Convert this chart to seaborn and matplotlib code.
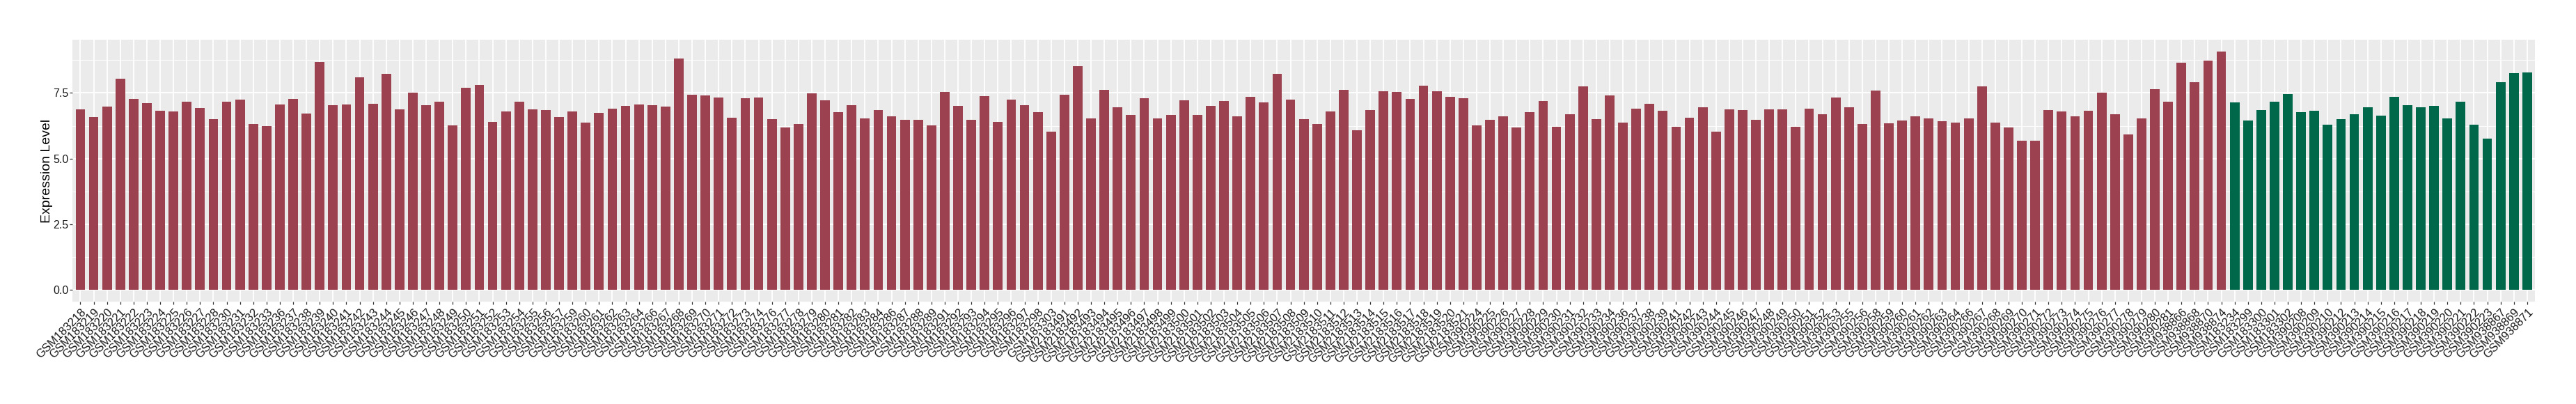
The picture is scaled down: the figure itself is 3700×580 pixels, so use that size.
import matplotlib
matplotlib.use("Agg")
import matplotlib.pyplot as plt
import matplotlib.transforms as mtransforms
from matplotlib.ticker import MultipleLocator, FormatStrFormatter
import numpy as np
import pandas as pd
import seaborn as sns

# ---------------- data ----------------
tumor_g1_ids = [183218, 183219, 183220, 183221, 183222, 183223, 183224, 183225, 183226, 183227,
                183228, 183230, 183231, 183232, 183233, 183236, 183237, 183238, 183239, 183240,
                183241, 183242, 183243, 183244, 183245, 183246, 183247, 183248, 183249, 183250,
                183251, 183252, 183253, 183254, 183255, 183256, 183257, 183259, 183260, 183261,
                183262, 183263, 183264, 183266, 183267, 183268, 183269, 183270, 183271, 183272,
                183273, 183274, 183276, 183277, 183278, 183279, 183280, 183281, 183282, 183283,
                183284, 183286, 183287, 183288, 183289, 183291, 183292, 183293, 183294, 183295,
                183296, 183297, 183298, 183303]
tumor_g1_vals = [6.88, 6.59, 6.98, 8.05, 7.27, 7.12, 6.82, 6.79, 7.17, 6.93,
                 6.51, 7.17, 7.24, 6.32, 6.24, 7.06, 7.27, 6.71, 8.68, 7.04,
                 7.06, 8.10, 7.09, 8.23, 6.88, 7.51, 7.04, 7.17, 6.26, 7.70,
                 7.80, 6.40, 6.79, 7.17, 6.88, 6.85, 6.59, 6.79, 6.37, 6.74,
                 6.90, 7.01, 7.06, 7.04, 6.98, 8.82, 7.43, 7.41, 7.33, 6.56,
                 7.30, 7.33, 6.51, 6.18, 6.32, 7.49, 7.23, 6.77, 7.04, 6.53,
                 6.85, 6.62, 6.48, 6.48, 6.26, 7.54, 7.01, 6.48, 7.38, 6.40,
                 7.24, 7.04, 6.77, 6.03]

tumor_g2_ids = list(range(2183491, 2183522))
tumor_g2_vals = [7.43, 8.52, 6.53, 7.62, 6.96, 6.67, 7.30, 6.53, 6.67, 7.23,
                 6.67, 7.01, 7.20, 6.62, 7.35, 7.15, 8.23, 7.24, 6.51, 6.32,
                 6.79, 7.62, 6.08, 6.85, 7.57, 7.54, 7.27, 7.78, 7.57, 7.35,
                 7.30]

tumor_g3_ids = [390224, 390225, 390226, 390227, 390228, 390229, 390230, 390231, 390232, 390233,
                390234, 390236, 390237, 390238, 390239, 390241, 390242, 390243, 390244, 390245,
                390246, 390247, 390248, 390249, 390250, 390251, 390252, 390253, 390255, 390256,
                390258, 390259, 390260, 390261, 390262, 390263, 390264, 390266, 390267, 390268,
                390269, 390270, 390271, 390272, 390273, 390274, 390275, 390276, 390277, 390278,
                390279, 390280, 390281]
tumor_g3_vals = [6.26, 6.48, 6.62, 6.18, 6.77, 7.20, 6.21, 6.70, 7.76, 6.51,
                 7.41, 6.37, 6.90, 7.09, 6.82, 6.21, 6.56, 6.96, 6.03, 6.88,
                 6.85, 6.48, 6.88, 6.88, 6.21, 6.90, 6.70, 7.33, 6.96, 6.32,
                 7.60, 6.34, 6.45, 6.62, 6.53, 6.43, 6.37, 6.53, 7.76, 6.37,
                 6.18, 5.68, 5.68, 6.85, 6.79, 6.62, 6.82, 7.51, 6.70, 5.92,
                 6.53, 7.65, 7.17]

tumor_g4_ids = [938866, 938868, 938870, 938874]
tumor_g4_vals = [8.66, 7.91, 8.74, 9.08]

normal_ids = [183234, 183299, 183300, 183301, 183302, 390208, 390209, 390210, 390212, 390213,
              390214, 390215, 390216, 390217, 390218, 390219, 390220, 390221, 390222, 390223,
              938867, 938869, 938871]
normal_vals = [7.15, 6.45, 6.85, 7.17, 7.46, 6.77, 6.82, 6.29, 6.51, 6.70,
               6.96, 6.64, 7.35, 7.04, 6.96, 7.01, 6.53, 7.17, 6.29, 5.76,
               7.91, 8.26, 8.29]

group_colors = {"Tumor": "#9B4150", "Normal": "#00684A"}
y_label = "Expression Level"

# ---------------- build frame ----------------
tumor_ids = tumor_g1_ids + tumor_g2_ids + tumor_g3_ids + tumor_g4_ids
tumor_vals = tumor_g1_vals + tumor_g2_vals + tumor_g3_vals + tumor_g4_vals
samples = ["GSM%d" % i for i in tumor_ids] + ["GSM%d" % i for i in normal_ids]
values = tumor_vals + normal_vals
groups = ["Tumor"] * len(tumor_ids) + ["Normal"] * len(normal_ids)
df = pd.DataFrame({"sample": samples, "value": values, "group": groups})

# ---------------- plot ----------------
sns.set_theme(style="darkgrid")
plt.rcParams["font.family"] = ["Liberation Sans", "DejaVu Sans"]

W, H = 3700, 580
n = len(samples)
pitch = 19.1
left_px, top_px, bottom_px = 104, 56.7, 433.3
width_px = (n + 0.2) * pitch
fig = plt.figure(figsize=(W / 100, H / 100), dpi=100)
ax = fig.add_axes([left_px / W, 1 - bottom_px / H, width_px / W, (bottom_px - top_px) / H])

sns.barplot(data=df, x="sample", y="value", hue="group", palette=group_colors,
            dodge=False, width=0.72, saturation=1, legend=False, ax=ax,
            order=samples, hue_order=["Tumor", "Normal"], linewidth=0, edgecolor="none")

ax.set_xlim(-0.6, n - 1 + 0.6)
ymax = max(values)
ax.set_ylim(-0.05 * ymax, 1.05 * ymax)

ax.set_facecolor("#EBEBEB")
ax.yaxis.set_major_locator(MultipleLocator(2.5))
ax.yaxis.set_minor_locator(MultipleLocator(1.25))
ax.yaxis.set_major_formatter(FormatStrFormatter("%.1f"))
ax.grid(which="major", color="white", linewidth=1.3)
ax.grid(which="minor", axis="y", color="white", linewidth=0.65)
ax.set_axisbelow(True)
for s in ax.spines.values():
    s.set_visible(False)

ax.tick_params(axis="both", which="major", length=2.75, width=0.9, color="#333333",
               labelsize=12, labelcolor="#1a1a1a", pad=1.3, bottom=True, left=True)
ax.tick_params(axis="y", which="major", labelsize=11.5)
ax.tick_params(axis="y", which="minor", length=0, left=False)

ax.set_xlabel("")
ax.set_ylabel(y_label, fontsize=14, color="black", va="center")
ax.yaxis.set_label_coords((67 - left_px) / width_px, 0.5)

offset = mtransforms.ScaledTranslation(0.5 / 100, -1.5 / 100, fig.dpi_scale_trans)
for lab in ax.get_xticklabels():
    lab.set_rotation(45)
    lab.set_ha("right")
    lab.set_va("top")
    lab.set_rotation_mode("anchor")
    lab.set_transform(lab.get_transform() + offset)

fig.savefig("out.png", dpi=100, facecolor="white")
